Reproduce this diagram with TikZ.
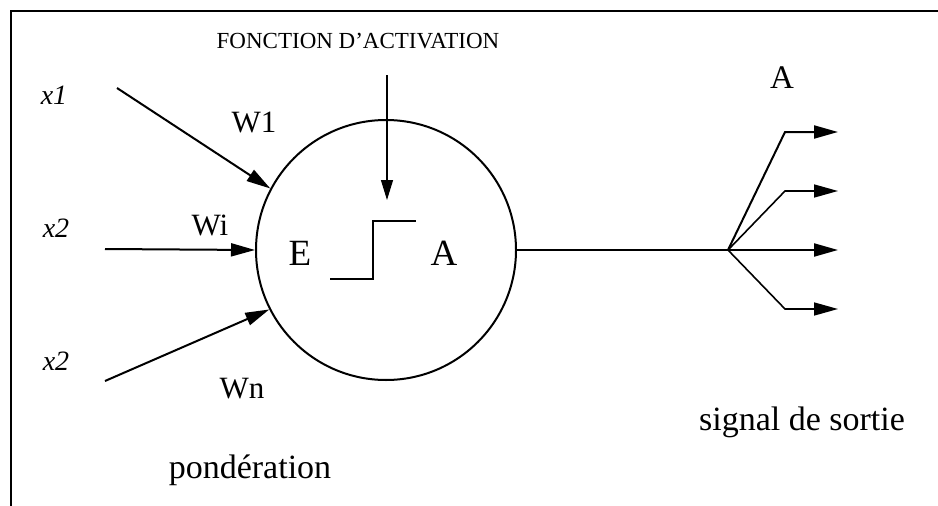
\documentclass[tikz,border=0pt]{standalone}
\usepackage{fontspec}
\setmainfont{Liberation Serif}
\usetikzlibrary{arrows.meta, positioning}

\begin{document}
\begin{tikzpicture}[x=1pt, y=-1pt,
		lbl/.style={anchor=base, inner sep=0pt, font=\fontsize{31}{37}\selectfont},
		inp/.style={anchor=base, inner sep=0pt, font=\fontsize{28}{34}\itshape},
		big/.style={anchor=base, inner sep=0pt, font=\fontsize{37}{44}\selectfont},
		wire/.style={line width=2pt},
		arr/.style={wire, -{Triangle[length=24pt, width=13pt]}},
		thin/.style={line width=1.3pt}]
	\useasboundingbox (0,0) rectangle (938,506);
	
	% frame (top and left edges only)
	\draw[line width=1.5pt] (938,11) -- (11,11) -- (11,506);
	
	% neuron
	\node[circle, draw, wire, minimum size=260pt, inner sep=0pt] (neuron) at (386,250) {};
	\node[big] (E) at (300,265) {E};
	\node[big] (Aint) at (444,265) {A};
	\draw[thin] (330,279) -| (373,221) -- (416,221);
	
	% inputs
	\coordinate (in1) at (117,88);
	\coordinate (ini) at (105,249);
	\coordinate (inn) at (105,381);
	\node[inp] (x1) at (54,104) {x1};
	\node[inp] (x2) at (56,237) {x2};
	\node[inp] (x3) at (56,370) {x2};
	\draw[arr] (in1) -- (neuron.152);
	\draw[arr] (ini) -- (neuron.180);
	\draw[arr] (inn) -- (neuron.207);
	\node[lbl] (W1) at (254,132) {W1};
	\node[lbl] (Wi) at (210,235) {Wi};
	\node[lbl] (Wn) at (242,398) {Wn};
	\node[lbl] (pond) at (250,478) {\fontsize{34}{40}\selectfont pondération};
	
	% activation function
	\node[lbl] (fct) at (358,48) {\fontsize{23}{28}\selectfont FONCTION D’ACTIVATION};
	\coordinate (fctin) at (387,200);
	\draw[thin, -{Triangle[length=20pt, width=12pt]}] (387,75) -- (fctin);
	
	% output
	\coordinate (fork) at (728,250);
	\draw[wire] (neuron.east) -- (fork);
	\coordinate (out1) at (838,132);
	\coordinate (out2) at (838,191);
	\coordinate (out3) at (838,250);
	\coordinate (out4) at (838,309);
	\draw[arr] (fork) -- (785,132) -- (out1);
	\draw[arr, line width=1.6pt] (fork) -- (785,191) -- (out2);
	\draw[arr] (fork) -- (out3);
	\draw[arr, line width=1.6pt] (fork) -- (785,309) -- (out4);
	\node[lbl] (Aout) at (782,88) {\fontsize{33}{40}\selectfont A};
	\node[lbl] (sortie) at (802,430) {\fontsize{34}{40}\selectfont signal de sortie};
\end{tikzpicture}
\end{document}
